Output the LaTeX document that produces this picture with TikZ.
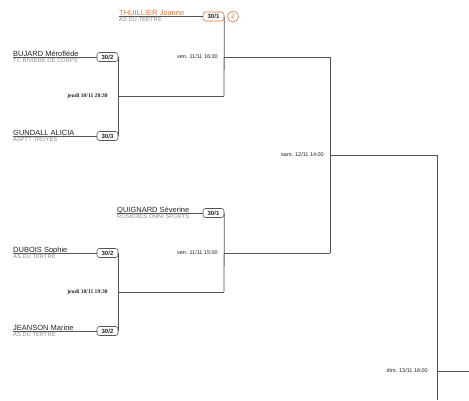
\documentclass[tikz,border=0pt]{standalone}
\usepackage{fontspec}
\setmainfont{Liberation Sans}
\newfontfamily\serifdate{Liberation Serif}
\definecolor{linegray}{HTML}{555555}
\definecolor{boxgray}{HTML}{555555}
\definecolor{namecol}{HTML}{222222}
\definecolor{clubcol}{HTML}{8C8C8C}
\definecolor{seedorange}{HTML}{E8733A}
\begin{document}
\begin{tikzpicture}[x=1pt,y=-1pt,
 conn/.style={draw=linegray,line width=0.8pt},
 pname/.style={anchor=base west,inner sep=0pt,font=\fontsize{7.5}{8}\selectfont,text=namecol},
 club/.style={anchor=north west,inner sep=0pt,font=\fontsize{5.8}{6}\selectfont,text=clubcol},
 score/.style={draw=boxgray,line width=0.6pt,rounded corners=2.5pt,minimum width=21pt,minimum height=9pt,inner sep=0pt,font=\fontsize{6}{6}\selectfont\bfseries,text=namecol,fill=white},
 datel/.style={anchor=east,inner sep=0pt,font=\fontsize{5.5}{6}\selectfont,text=namecol},
 jdate/.style={anchor=east,inner sep=0pt,font=\serifdate\fontsize{5.6}{6}\selectfont\bfseries,text=namecol},
]
\useasboundingbox (0,0) rectangle (469,400);

% ---- THUILLIER (bye) ----
\coordinate (thuL) at (119,16.5);
\node[pname,text=seedorange] (thu) at (119,15.5) {THUILLIER Joanne};
\node[club] (thuclub) at (119,17.3) {AS DU TERTRE};
\node[score,draw=seedorange] (thuS) at (213.5,16.5) {30/1};
\node[draw=seedorange,circle,minimum size=11pt,inner sep=0pt,text=seedorange,font=\fontsize{6.5}{7}\selectfont,line width=0.6pt] (seed) at (233,16.5) {2};
\draw[conn] (thuL) -- (thuS.west);

% ---- BUJARD ----
\coordinate (bujL) at (13,57);
\node[pname] (buj) at (13,56) {BUJARD Mérofléde};
\node[club] (bujclub) at (13,57.8) {TC RIVIERE DE CORPS};
\node[score] (bujS) at (107.5,57) {30/2};
\draw[conn] (bujL) -- (bujS.west);

% ---- GUNDALL ----
\coordinate (gunL) at (13,136);
\node[pname] (gun) at (13,135) {GUNDALL ALICIA};
\node[club] (gunclub) at (13,136.8) {ASPTT TROYES};
\node[score] (gunS) at (107.5,136) {30/3};
\draw[conn] (gunL) -- (gunS.west);

% ---- QUIGNARD ----
\coordinate (quiL) at (117,213);
\node[pname] (qui) at (117,212) {QUIGNARD Séverine};
\node[club] (quiclub) at (117,213.8) {ROSIERES OMNI SPORTS};
\node[score] (quiS) at (213.5,213) {30/1};
\draw[conn] (quiL) -- (quiS.west);

% ---- DUBOIS ----
\coordinate (dubL) at (13,253);
\node[pname] (dub) at (13,252) {DUBOIS Sophie};
\node[club] (dubclub) at (13,253.8) {AS DU TERTRE};
\node[score] (dubS) at (107.5,253) {30/2};
\draw[conn] (dubL) -- (dubS.west);

% ---- JEANSON ----
\coordinate (jeaL) at (13,331);
\node[pname] (jea) at (13,330) {JEANSON Marine};
\node[club] (jeaclub) at (13,331.8) {AS DU TERTRE};
\node[score] (jeaS) at (107.5,331) {30/2};
\draw[conn] (jeaL) -- (jeaS.west);

% ---- round 1 joints ----
\coordinate (r1a) at (118,96);
\coordinate (r1b) at (224,96);
\coordinate (r2a) at (118,292);
\coordinate (r2b) at (224,292);
\draw[conn] (bujS.east) -- (gunS.east);
\draw[conn] (r1a) -- (r1b);
\draw[conn] (dubS.east) -- (jeaS.east);
\draw[conn] (r2a) -- (r2b);
\node[jdate] (d1) at (108,96) {jeudi 10/11 20:30};
\node[jdate] (d2) at (108,292) {jeudi 10/11 19:30};

% ---- round 2 ----
\coordinate (q1a) at (224,57);
\coordinate (q1b) at (330,57);
\coordinate (q2a) at (224,253);
\coordinate (q2b) at (330,253);
\draw[conn] (thuS.east) -- (r1b);
\draw[conn] (q1a) -- (q1b);
\draw[conn] (quiS.east) -- (r2b);
\draw[conn] (q2a) -- (q2b);
\node[datel] (d3) at (218,57) {ven. 11/11 16:30};
\node[datel] (d4) at (218,253) {ven. 11/11 15:00};

% ---- semi ----
\coordinate (s1a) at (330,155);
\coordinate (s1b) at (437,155);
\draw[conn] (q1b) -- (q2b);
\draw[conn] (s1a) -- (s1b);
\node[datel] (d5) at (324,155) {sam. 12/11 14:00};

% ---- final ----
\coordinate (f1a) at (437,371);
\coordinate (f1b) at (469,371);
\coordinate (fend) at (437,400);
\draw[conn] (s1b) -- (fend);
\draw[conn] (f1a) -- (f1b);
\node[datel] (d6) at (428,371) {dim. 13/11 16:00};
\end{tikzpicture}
\end{document}
